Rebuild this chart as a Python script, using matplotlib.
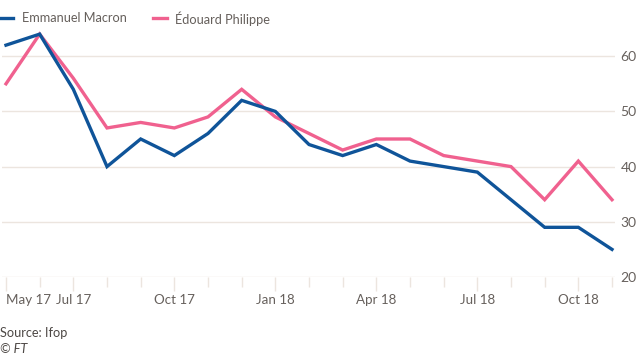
import matplotlib
matplotlib.use("Agg")
import matplotlib.pyplot as plt
from matplotlib.lines import Line2D

months = ["May 17", "Jun 17", "Jul 17", "Aug 17", "Sep 17", "Oct 17", "Nov 17",
          "Dec 17", "Jan 18", "Feb 18", "Mar 18", "Apr 18", "May 18", "Jun 18",
          "Jul 18", "Aug 18", "Sep 18", "Oct 18", "Nov 18"]
macron = [62, 64, 54, 40, 45, 42, 46, 52, 50, 44, 42, 44, 41, 40, 39, 34, 29, 29, 25]
philippe = [55, 64, 56, 47, 48, 47, 49, 54, 49, 46, 43, 45, 45, 42, 41, 40, 34, 41, 34]
labeled = ["May 17", "Jul 17", "Oct 17", "Jan 18", "Apr 18", "Jul 18", "Oct 18"]
yticks = [20, 30, 40, 50, 60]
series_names = ["Emmanuel Macron", "Édouard Philippe"]

BLUE = "#0f5499"
PINK = "#f0618f"
GRID = "#ece5df"
TEXT = "#66605c"

plt.rcParams['font.family'] = ['Lato', 'DejaVu Sans']

W, H = 640, 356
fig = plt.figure(figsize=(W / 100, H / 100), dpi=100)
fig.patch.set_facecolor("white")

left, right = 2, 615
top, bottom = 28, 277
ax = fig.add_axes([left / W, 1 - bottom / H, (right - left) / W, (bottom - top) / H])

x = list(range(len(months)))
ax.plot(x, philippe, color=PINK, lw=2.4, solid_joinstyle="miter", zorder=3)
ax.plot(x, macron, color=BLUE, lw=2.4, solid_joinstyle="miter", zorder=4)

ax.set_ylim(20, 20 + (277 - 28) / 5.52)
ax.set_xlim(-4 / 33.67, 18 + 3 / 33.67)

for s in ax.spines.values():
    s.set_visible(False)
for y in yticks:
    ax.axhline(y, color=GRID, lw=1, zorder=1)

ax.yaxis.tick_right()
ax.set_yticks(yticks)
ax.set_yticklabels([str(v) for v in yticks], color=TEXT, fontsize=10)
ax.tick_params(axis="y", length=0, pad=4)

major = [months.index(m) for m in labeled]
minor = [i for i in x if i not in major]
ax.set_xticks(major)
ax.set_xticklabels(labeled, color=TEXT, fontsize=9.6)
ax.set_xticks(minor, minor=True)
ax.tick_params(axis="x", which="major", length=10, color=GRID, width=1, pad=2)
ax.tick_params(axis="x", which="minor", length=7, color=GRID, width=1)
ax.get_xticklabels()[0].set_horizontalalignment("left")

# legend drawn in figure pixel coordinates
def fx(px):
    return px / W

def fy(py):
    return 1 - py / H

for (x0, x1, tx), col, name in zip([(0, 13, 22), (153, 167, 175)], [BLUE, PINK], series_names):
    fig.add_artist(Line2D([fx(x0), fx(x1)], [fy(18.3), fy(18.3)], color=col, lw=2.4,
                          transform=fig.transFigure))
    fig.text(fx(tx), fy(18.5), name, color=TEXT, fontsize=9.2, va="center", ha="left")

fig.text(0, fy(333), "Source: Ifop", color="#4d4845", fontsize=9.2, va="center", ha="left")
fig.text(0, fy(349), "© FT", color="#4d4845", fontsize=9.2, va="center", ha="left",
         style="italic")

fig.savefig("out.png", dpi=100, facecolor="white")
